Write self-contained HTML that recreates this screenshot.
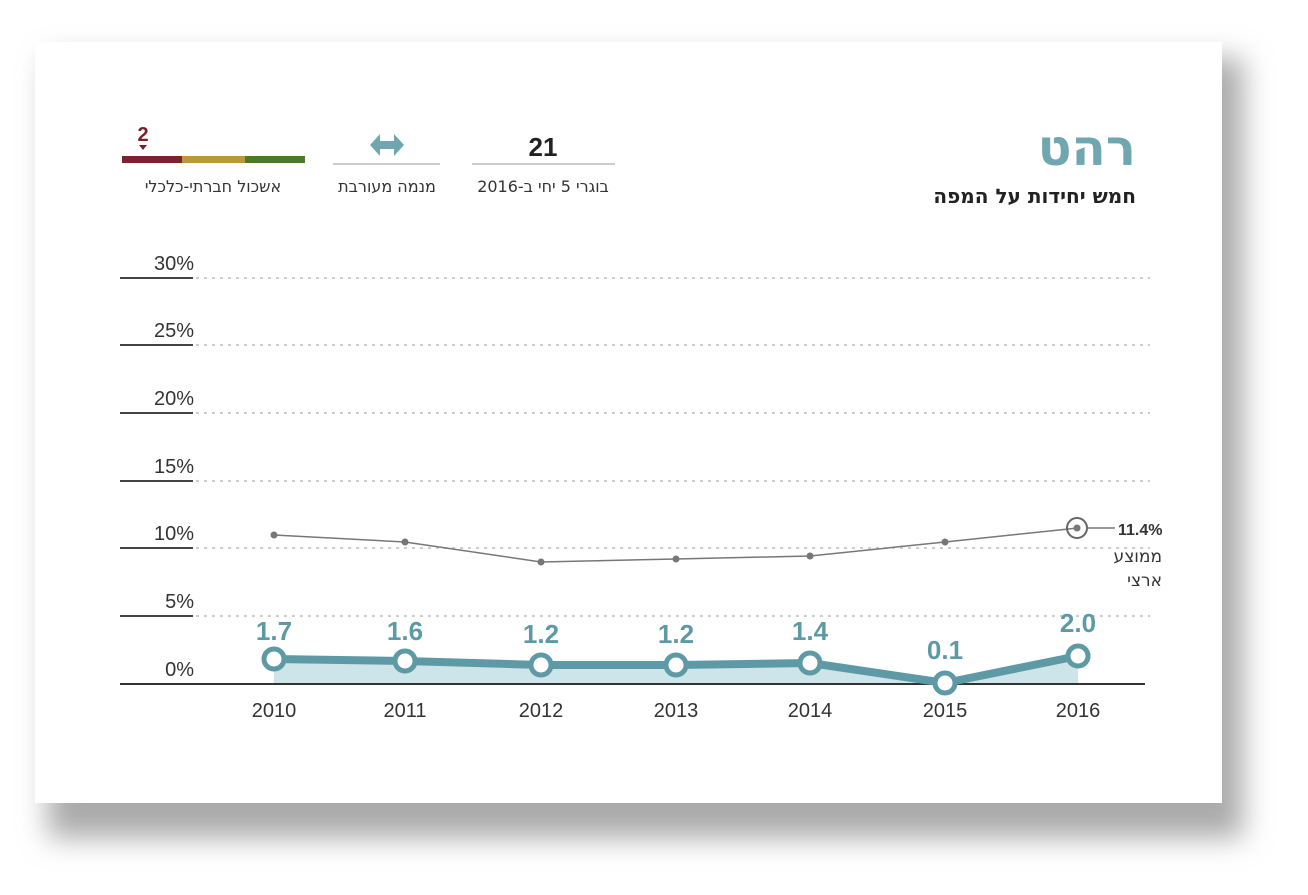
<!DOCTYPE html>
<html><head><meta charset="utf-8"><style>
body{margin:0;width:1308px;height:890px;background:#fff;overflow:hidden;font-family:"Liberation Sans","DejaVu Sans",sans-serif}
</style></head><body>
<svg width="1308" height="890" xmlns="http://www.w3.org/2000/svg" font-family="Liberation Sans, DejaVu Sans, sans-serif">
<defs><filter id="sh" x="-10%" y="-10%" width="125%" height="130%"><feGaussianBlur stdDeviation="14"/></filter></defs>
<rect x="48" y="58" width="1195" height="780" fill="#aaa" filter="url(#sh)"/>
<rect x="35" y="42" width="1187" height="761" fill="#fff"/>
<text x="1136" y="165" text-anchor="end" font-size="50" font-weight="bold" fill="#6fa6b0" font-family="DejaVu Sans, sans-serif">רהט</text>
<text x="1136" y="203" text-anchor="end" font-size="20" font-weight="bold" fill="#222" font-family="DejaVu Sans, sans-serif">חמש יחידות על המפה</text>
<text x="543" y="156" text-anchor="middle" font-size="26" font-weight="bold" fill="#222">21</text>
<line x1="472" y1="164" x2="615" y2="164" stroke="#999"/>
<text x="543" y="192" text-anchor="middle" font-size="16" fill="#333" font-family="DejaVu Sans, sans-serif">בוגרי 5 יחי ב-2016</text>
<path d="M370 145 L380 134 L380 141 L394 141 L394 134 L404 145 L394 156 L394 149 L380 149 L380 156 Z" fill="#6fa6b0"/>
<line x1="333" y1="164" x2="440" y2="164" stroke="#999"/>
<text x="387" y="192" text-anchor="middle" font-size="16" fill="#333" font-family="DejaVu Sans, sans-serif">מנמה מעורבת</text>
<text x="143" y="141" text-anchor="middle" font-size="20" font-weight="bold" fill="#7a1f2b">2</text>
<path d="M139 145 L147 145 L143 150 Z" fill="#7a1f2b"/>
<g>
<rect x="122" y="156" width="60" height="7" fill="#7a2230"/>
<rect x="182" y="156" width="63" height="7" fill="#b89a3a"/>
<rect x="245" y="156" width="60" height="7" fill="#4a7a2a"/>
</g>
<text x="213" y="192" text-anchor="middle" font-size="16" fill="#333" font-family="DejaVu Sans, sans-serif">אשכול חברתי-כלכלי</text>
<g font-size="20" fill="#333" text-anchor="end">
<text x="194" y="270">30%</text><text x="194" y="337">25%</text><text x="194" y="405">20%</text><text x="194" y="473">15%</text><text x="194" y="540">10%</text><text x="194" y="608">5%</text><text x="194" y="676">0%</text>
</g>
<g stroke="#444" stroke-width="2">
<line x1="120" y1="278" x2="193" y2="278"/><line x1="120" y1="345" x2="193" y2="345"/><line x1="120" y1="413" x2="193" y2="413"/><line x1="120" y1="481" x2="193" y2="481"/><line x1="120" y1="548" x2="193" y2="548"/><line x1="120" y1="616" x2="193" y2="616"/>
</g>
<g stroke="#ccc" stroke-width="2" stroke-dasharray="3,5">
<line x1="196" y1="278" x2="1150" y2="278"/><line x1="196" y1="345" x2="1150" y2="345"/><line x1="196" y1="413" x2="1150" y2="413"/><line x1="196" y1="481" x2="1150" y2="481"/><line x1="196" y1="548" x2="1150" y2="548"/><line x1="196" y1="616" x2="1150" y2="616"/>
</g>
<path d="M274 659 L405 661 L541 665 L676 665 L810 663 L945 683 L1078 656 L1078 684 L274 684 Z" fill="#cde4e8"/>
<line x1="120" y1="684" x2="1145" y2="684" stroke="#333" stroke-width="2"/>
<polyline points="274,535 405,542 541,562 676,559 810,556 945,542 1078,528" fill="none" stroke="#777" stroke-width="1.5"/>
<g fill="#777"><circle cx="274" cy="535" r="3.5"/><circle cx="405" cy="542" r="3.5"/><circle cx="541" cy="562" r="3.5"/><circle cx="676" cy="559" r="3.5"/><circle cx="810" cy="556" r="3.5"/><circle cx="945" cy="542" r="3.5"/><circle cx="1077" cy="528" r="3.5"/></g>
<circle cx="1077" cy="528" r="10" fill="none" stroke="#666" stroke-width="2"/>
<line x1="1088" y1="528" x2="1115" y2="528" stroke="#777" stroke-width="1.5"/>
<text x="1118" y="535" font-size="16" font-weight="bold" fill="#333">11.4%</text>
<text x="1162" y="562" text-anchor="end" font-size="17" fill="#333" font-family="DejaVu Sans, sans-serif">ממוצע</text>
<text x="1162" y="586" text-anchor="end" font-size="17" fill="#333" font-family="DejaVu Sans, sans-serif">ארצי</text>
<polyline points="274,659 405,661 541,665 676,665 810,663 945,683 1078,656" fill="none" stroke="#5e9aa6" stroke-width="8" stroke-linejoin="round"/>
<g fill="#fff" stroke="#5e9aa6" stroke-width="5">
<circle cx="274" cy="659" r="10"/><circle cx="405" cy="661" r="10"/><circle cx="541" cy="665" r="10"/><circle cx="676" cy="665" r="10"/><circle cx="810" cy="663" r="10"/><circle cx="945" cy="683" r="10"/><circle cx="1078" cy="656" r="10"/>
</g>
<g font-size="26" fill="#5e9aa6" text-anchor="middle" font-weight="bold">
<text x="274" y="640">1.7</text><text x="405" y="640">1.6</text><text x="541" y="643">1.2</text><text x="676" y="643">1.2</text><text x="810" y="640">1.4</text><text x="945" y="659">0.1</text><text x="1078" y="632">2.0</text>
</g>
<g font-size="20" fill="#333" text-anchor="middle">
<text x="274" y="717">2010</text><text x="405" y="717">2011</text><text x="541" y="717">2012</text><text x="676" y="717">2013</text><text x="810" y="717">2014</text><text x="945" y="717">2015</text><text x="1078" y="717">2016</text>
</g>
</svg>
</body></html>
